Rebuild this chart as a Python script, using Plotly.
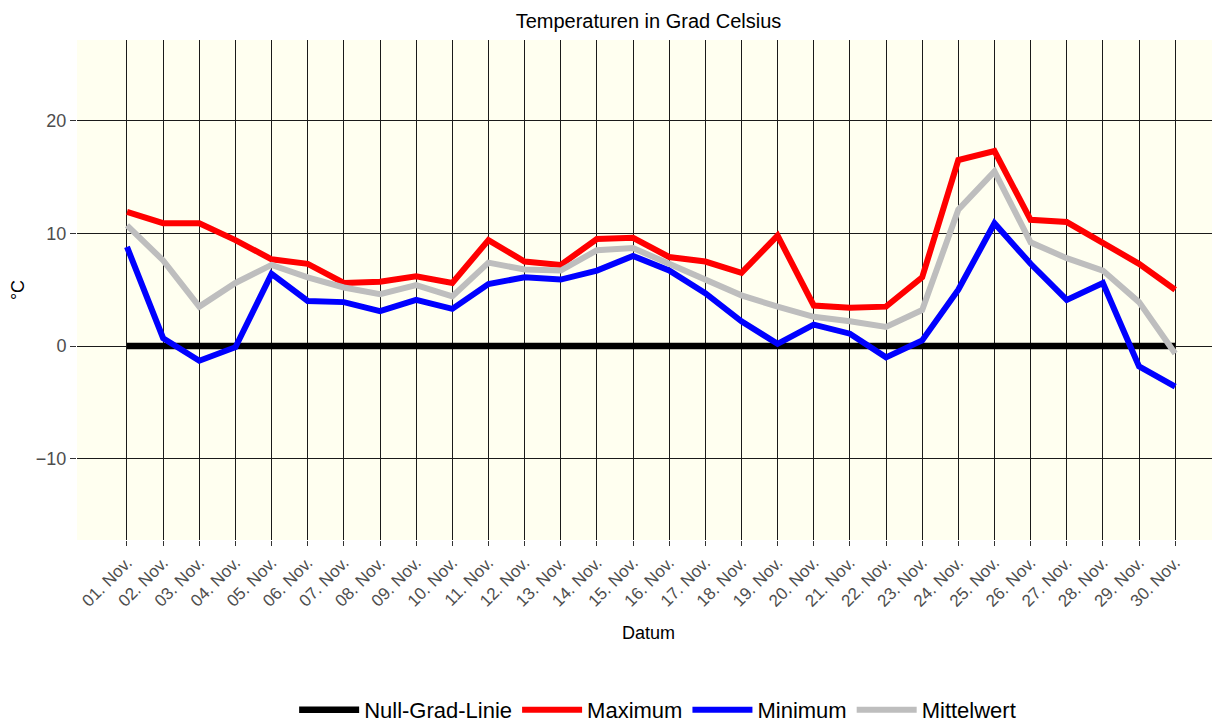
import plotly.graph_objects as go

days = ["01. Nov.", "02. Nov.", "03. Nov.", "04. Nov.", "05. Nov.", "06. Nov.",
        "07. Nov.", "08. Nov.", "09. Nov.", "10. Nov.", "11. Nov.", "12. Nov.",
        "13. Nov.", "14. Nov.", "15. Nov.", "16. Nov.", "17. Nov.", "18. Nov.",
        "19. Nov.", "20. Nov.", "21. Nov.", "22. Nov.", "23. Nov.", "24. Nov.",
        "25. Nov.", "26. Nov.", "27. Nov.", "28. Nov.", "29. Nov.", "30. Nov."]

maximum = [11.9, 10.9, 10.9, 9.4, 7.7, 7.3, 5.6, 5.7, 6.2, 5.6,
           9.4, 7.5, 7.2, 9.5, 9.6, 7.9, 7.5, 6.5, 9.8, 3.6,
           3.4, 3.5, 6.1, 16.5, 17.3, 11.2, 11.0, 9.1, 7.3, 5.0]

minimum = [8.8, 0.7, -1.3, -0.1, 6.4, 4.0, 3.9, 3.1, 4.1, 3.3,
           5.5, 6.1, 5.9, 6.7, 8.0, 6.7, 4.7, 2.2, 0.2, 1.9,
           1.1, -1.0, 0.5, 5.0, 10.9, 7.3, 4.1, 5.6, -1.8, -3.6]

mittelwert = [10.7, 7.6, 3.5, 5.6, 7.2, 6.1, 5.2, 4.6, 5.4, 4.4,
              7.4, 6.8, 6.7, 8.5, 8.7, 7.3, 6.0, 4.5, 3.5, 2.6,
              2.2, 1.7, 3.2, 12.1, 15.5, 9.2, 7.8, 6.7, 3.9, -0.65]

null_linie = [0, 0, 0, 0, 0, 0, 0, 0, 0, 0,
              0, 0, 0, 0, 0, 0, 0, 0, 0, 0,
              0, 0, 0, 0, 0, 0, 0, 0, 0, 0]

y_ticks = [-10, 0, 10, 20]

series = [
    ("Null-Grad-Linie", null_linie, "#000000", 6.5),
    ("Maximum", maximum, "#FF0000", 6),
    ("Minimum", minimum, "#0000FF", 6),
    ("Mittelwert", mittelwert, "#BEBEBE", 6),
]

fig = go.Figure()
for name, vals, color, width in series:
    fig.add_trace(go.Scatter(
        x=days, y=vals, mode="lines", name=name,
        line=dict(color=color, width=width),
    ))

font_family = "Liberation Sans, Arial, sans-serif"

# the page body adds an 8 px offset, so the figure is 8 px smaller
fig.update_layout(
    width=1212, height=715,
    margin=dict(l=69, r=0, t=32, b=183, autoexpand=False),
    paper_bgcolor="white",
    plot_bgcolor="#FFFFF0",
    font=dict(family=font_family, size=18, color="#4D4D4D"),
    title=dict(text="Temperaturen in Grad Celsius", x=0.5, xref="paper",
               y=1 - 13 / 715, yref="container", xanchor="center", yanchor="middle",
               font=dict(size=20, color="black")),
    showlegend=True,
    legend=dict(orientation="h", x=0.508, xref="paper", xanchor="center",
                y=13 / 715, yref="container", yanchor="middle",
                font=dict(size=22, color="black"),
                itemwidth=60, traceorder="normal"),
)

fig.update_xaxes(
    type="category",
    automargin=False,
    range=[-1.383, 30.24],
    showgrid=True, gridcolor="#1a1a1a", gridwidth=0.8,
    zeroline=False, showline=False,
    ticks="outside", ticklen=5, tickcolor="#333333", tickwidth=1,
    tickangle=-45,
    tickfont=dict(size=17, color="#4D4D4D"),
    title=dict(text="Datum", font=dict(size=18, color="black"), standoff=16),
)

fig.update_yaxes(
    automargin=False,
    range=[-17.2, 27.15],
    tickvals=y_ticks,
    showgrid=True, gridcolor="#1a1a1a", gridwidth=0.8,
    zeroline=False, showline=False,
    ticks="outside", ticklen=6, tickcolor="#333333", tickwidth=1,
    tickfont=dict(size=18, color="#4D4D4D"),
    title=dict(text="°C", font=dict(size=18, color="black"), standoff=19),
)

fig.write_html("out.html")
